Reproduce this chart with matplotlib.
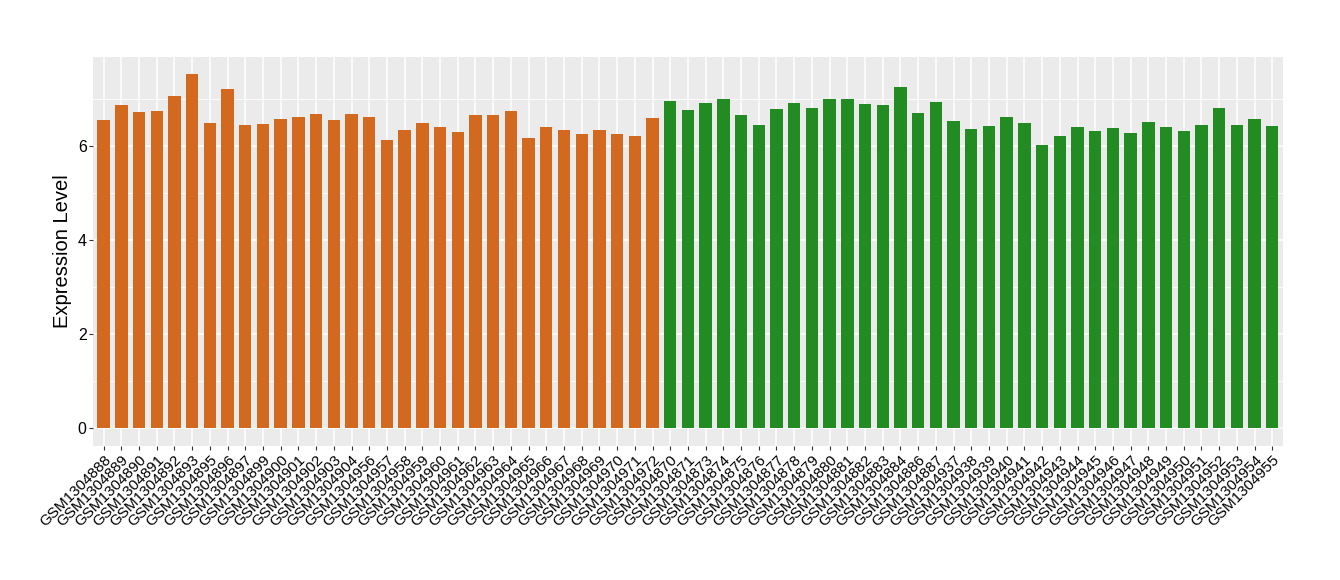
import matplotlib
matplotlib.use("Agg")
import matplotlib.pyplot as plt
from matplotlib.ticker import MultipleLocator

plt.rcParams['font.family'] = ['Liberation Sans', 'DejaVu Sans']

samples_a = ["GSM1304888", "GSM1304889", "GSM1304890", "GSM1304891", "GSM1304892", "GSM1304893",
             "GSM1304895", "GSM1304896", "GSM1304897", "GSM1304899", "GSM1304900", "GSM1304901",
             "GSM1304902", "GSM1304903", "GSM1304904", "GSM1304956", "GSM1304957", "GSM1304958",
             "GSM1304959", "GSM1304960", "GSM1304961", "GSM1304962", "GSM1304963", "GSM1304964",
             "GSM1304965", "GSM1304966", "GSM1304967", "GSM1304968", "GSM1304969", "GSM1304970",
             "GSM1304971", "GSM1304972"]
values_a = [6.55, 6.87, 6.72, 6.75, 7.06, 7.53, 6.49, 7.21, 6.45, 6.47, 6.57, 6.62,
            6.68, 6.55, 6.68, 6.62, 6.13, 6.34, 6.49, 6.40, 6.30, 6.66, 6.66, 6.75,
            6.17, 6.40, 6.34, 6.26, 6.34, 6.26, 6.21, 6.60]

samples_b = ["GSM1304870", "GSM1304871", "GSM1304873", "GSM1304874", "GSM1304875", "GSM1304876",
             "GSM1304877", "GSM1304878", "GSM1304879", "GSM1304880", "GSM1304881", "GSM1304882",
             "GSM1304883", "GSM1304884", "GSM1304886", "GSM1304887", "GSM1304937", "GSM1304938",
             "GSM1304939", "GSM1304940", "GSM1304941", "GSM1304942", "GSM1304943", "GSM1304944",
             "GSM1304945", "GSM1304946", "GSM1304947", "GSM1304948", "GSM1304949", "GSM1304950",
             "GSM1304951", "GSM1304952", "GSM1304953", "GSM1304954", "GSM1304955"]
values_b = [6.96, 6.77, 6.92, 7.00, 6.66, 6.45, 6.79, 6.92, 6.81, 7.00, 7.00, 6.89,
            6.87, 7.26, 6.70, 6.94, 6.53, 6.36, 6.43, 6.62, 6.49, 6.02, 6.21, 6.40,
            6.32, 6.38, 6.28, 6.51, 6.40, 6.32, 6.45, 6.81, 6.45, 6.57, 6.43]

color_a = "#D2691E"
color_b = "#228B22"

labels = samples_a + samples_b
values = values_a + values_b
colors = [color_a] * len(samples_a) + [color_b] * len(samples_b)
x = list(range(len(labels)))

fig = plt.figure(figsize=(13.4, 5.8), dpi=100)
ax = fig.add_axes([0.0694, 0.231, 0.888, 0.671])
ax.set_facecolor("#EBEBEB")
ax.set_axisbelow(True)

ax.bar(x, values, width=0.7, color=colors, zorder=3)

ax.set_xlim(-0.6, len(labels) - 0.4)
ax.set_ylim(-0.383, 7.894)
ax.yaxis.set_major_locator(MultipleLocator(2))
ax.yaxis.set_minor_locator(MultipleLocator(1))
ax.set_xticks(x)
ax.set_xticklabels(labels, rotation=45, ha='right', va='top', rotation_mode='anchor', fontsize=11, color='black')
ax.tick_params(axis='y', labelsize=11.5, labelcolor='black', color='#333333', length=3, width=0.8, pad=1.5)
ax.tick_params(axis='x', color='#333333', length=3, width=0.8, pad=2)
ax.tick_params(axis='y', which='minor', length=0)

ax.grid(which='major', color='white', linewidth=1.1)
ax.grid(which='minor', axis='y', color='white', linewidth=0.55)

for s in ax.spines.values():
    s.set_visible(False)

ax.set_ylabel("Expression Level", fontsize=14.5, color='black', labelpad=4)

fig.savefig("out.png", dpi=100)
